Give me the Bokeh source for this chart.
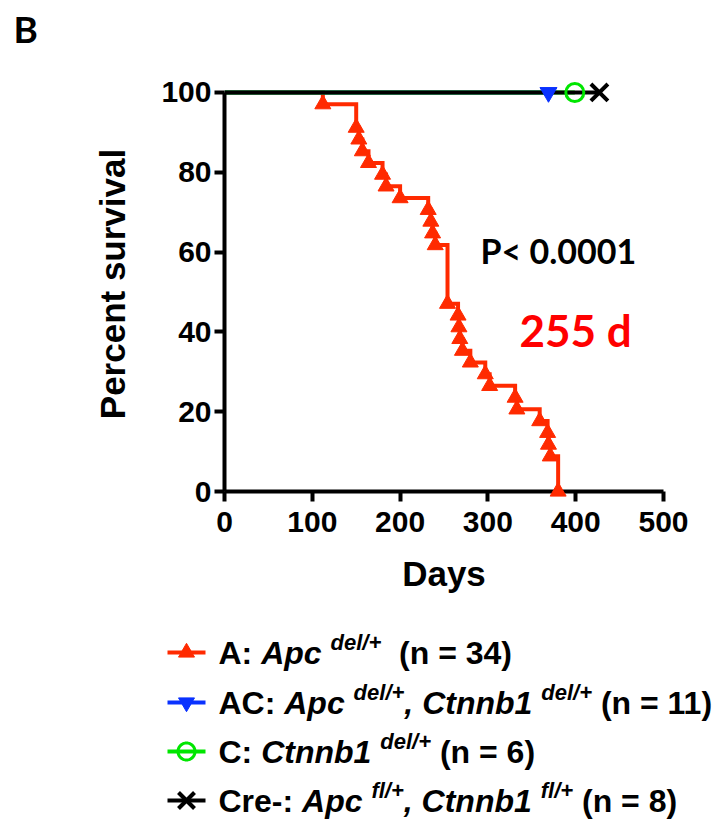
import math
from bokeh.plotting import figure
from bokeh.models import Range1d, FixedTicker
from bokeh.embed import file_html
from bokeh.resources import INLINE
from bokeh.core.properties import value

# ---------------- data ----------------
# Group A (Apc del/+): event days and survival (%) after each event
a_days = [112, 150, 153, 157, 164, 180, 184, 200, 232, 235, 237, 240, 254,
          266, 267, 268, 271, 280, 297, 302, 331, 333, 359, 368, 369, 371, 380]
a_surv = [97.06, 91.18, 88.24, 85.29, 82.35, 79.41, 76.47, 73.53, 70.59, 67.65,
          64.71, 61.76, 47.06, 44.12, 41.18, 38.24, 35.29, 32.35, 29.41, 26.47,
          23.53, 20.59, 17.65, 14.71, 11.76, 8.82, 0.0]
# Groups without events: follow-up span at 100 %
ac_days = [0, 369]
ac_surv = [100, 100]
c_days = [0, 399]
c_surv = [100, 100]
cre_days = [0, 427]
cre_surv = [100, 100]

x_ticks = [0, 100, 200, 300, 400, 500]
y_ticks = [0, 20, 40, 60, 80, 100]

panel_label = "B"
p_text = "P< 0.0001"
median_text = "255 d"

legend_rows = [
    [("A: ", "b"), ("Apc", "i"), (" ", "b"), ("del/+", "sup"), ("  (n = 34)", "b")],
    [("AC: ", "b"), ("Apc", "i"), (" ", "b"), ("del/+", "sup"), (", Ctnnb1", "i"),
     (" ", "b"), ("del/+", "sup"), (" (n = 11)", "b")],
    [("C: ", "b"), ("Ctnnb1", "i"), (" ", "b"), ("del/+", "sup"), (" (n = 6)", "b")],
    [("Cre-: ", "b"), ("Apc", "i"), (" ", "b"), ("fl/+", "sup"), (", Ctnnb1", "i"),
     (" ", "b"), ("fl/+", "sup"), (" (n = 8)", "b")],
]

RED = "#FF2A00"
BLUE = "#0A32FF"
GREEN = "#00E600"
BLACK = "#000000"
FONT = "Liberation Sans"

# ---------------- layout geometry (pixels) ----------------
W, H = 727, 832
FL, FR, FT, FB = 224, 663, 76, 491          # frame edges
X0, X1, Y0, Y1 = 0, 500, 0, 104              # ranges
KX = (FR - FL) / (X1 - X0)
KY = (FB - FT) / (Y1 - Y0)


def dx(px):  # screen x -> data x
    return X0 + (px - FL) / KX


def dy(py):  # screen y -> data y
    return Y0 + (FB - py) / KY


p = figure(width=W, height=H, x_range=Range1d(X0, X1), y_range=Range1d(Y0, Y1),
           toolbar_location=None, output_backend="svg",
           min_border_left=FL, min_border_right=W - FR, min_border_top=FT,
           min_border_bottom=H - FB)
p.outline_line_color = None
p.grid.visible = False
p.background_fill_color = "white"
p.border_fill_color = "white"

for ax in (p.xaxis[0], p.yaxis[0]):
    ax.axis_line_width = 4
    ax.axis_line_color = BLACK
    ax.major_tick_line_width = 4
    ax.major_tick_line_color = BLACK
    ax.major_tick_in = 0
    ax.major_tick_out = 10
    ax.minor_tick_line_color = None
    ax.major_label_text_font = FONT
    ax.major_label_text_font_style = "bold"
    ax.major_label_text_font_size = "30px"
    ax.major_label_text_color = BLACK
    ax.axis_label_text_font = FONT
    ax.axis_label_text_font_style = "bold"
    ax.axis_label_text_font_size = "35px"
    ax.axis_label_text_color = BLACK

p.xaxis.ticker = FixedTicker(ticks=x_ticks)
p.yaxis.ticker = FixedTicker(ticks=y_ticks)
p.xaxis.bounds = (x_ticks[0], x_ticks[-1])
p.yaxis.bounds = (y_ticks[0], y_ticks[-1])
p.xaxis.axis_label = "Days"
p.yaxis.axis_label = "Percent survival"
p.xaxis.major_label_standoff = 10
p.yaxis.major_label_standoff = 3
p.xaxis.axis_label_standoff = 19
p.yaxis.axis_label_standoff = 26

# step curve for group A
sx, sy = [0], [100]
prev = 100
for d, s in zip(a_days, a_surv):
    sx += [d, d]
    sy += [prev, s]
    prev = s
p.line(sx, sy, line_width=4, color=RED, line_join="miter")
p.scatter(a_days, a_surv, marker="triangle", size=16, color=RED, level="overlay")

p.line(ac_days, ac_surv, line_width=4, color=BLUE)
p.line(c_days, c_surv, line_width=4, color=GREEN)
p.line(cre_days, cre_surv, line_width=4, color=BLACK)
p.scatter(ac_days[-1:], ac_surv[-1:], marker="inverted_triangle", size=17, color=BLUE)
p.scatter(c_days[-1:], c_surv[-1:], marker="circle", size=18, fill_color=None,
          line_color=GREEN, line_width=3)
p.scatter(cre_days[-1:], cre_surv[-1:], marker="x", size=24, line_color=BLACK, line_width=4)

p.text(x=[dx(480)], y=[dy(250)], text=[p_text], text_font=value("Lato"), text_font_size="34px",
       text_font_style="bold", text_color=BLACK, text_baseline="middle", text_align="left")
p.text(x=[dx(519)], y=[dy(329)], text=[median_text], text_font=value("Lato"),
       text_font_size="44px", text_font_style="bold", text_color="#FF0000",
       text_baseline="middle", text_align="left")
p.text(x=[dx(13)], y=[dy(28)], text=[panel_label], text_font=value("Lato"),
       text_font_size="37px", text_font_style="bold", text_color=BLACK,
       text_baseline="middle", text_align="left", level="overlay")

# ---------------- legend (drawn below the axes, outside the frame) ----------------
row_centers = [652, 702, 751, 800]
SX0, SX1, SXC = 167, 205, 186      # sample line span / symbol centre (screen px)


def sym_xy(offsets, yc):
    return [dx(SXC + ox) for ox, _ in offsets], [dy(yc + oy) for _, oy in offsets]


TRI_UP = [(-8, 4.6), (8, 4.6), (0, -9.2)]
TRI_DN = [(-8, -4.6), (8, -4.6), (0, 9.2)]
CIRC = [(8.5 * math.cos(t / 40 * 2 * math.pi), 8.5 * math.sin(t / 40 * 2 * math.pi))
        for t in range(41)]
X_A = [(-8, -8), (8, 8)]
X_B = [(-8, 8), (8, -8)]

sample_colors = [RED, BLUE, GREEN, BLACK]
for i, yc in enumerate(row_centers):
    col = sample_colors[i]
    p.line([dx(SX0), dx(SX1)], [dy(yc), dy(yc)], line_width=4, color=col, level="overlay")
    if i == 0 or i == 1:
        xs, ys = sym_xy(TRI_UP if i == 0 else TRI_DN, yc)
        p.patch(xs, ys, fill_color=col, line_color=col, line_width=1, level="overlay")
    elif i == 2:
        xs, ys = sym_xy(CIRC, yc)
        p.patch(xs, ys, fill_color="white", line_color=col, line_width=3, level="overlay")
        p.line([dx(SXC - 8), dx(SXC + 8)], [dy(yc), dy(yc)], line_width=4, color=col,
               level="overlay")
    else:
        xa, ya = sym_xy(X_A, yc)
        xb, yb_ = sym_xy(X_B, yc)
        p.multi_line([xa, xb], [ya, yb_], line_width=4, color=col, level="overlay")

CW = {' ': 278, '(': 333, ')': 333, ':': 333, ',': 278, '-': 333, '/': 278, '+': 584,
      '=': 584, '.': 278, 'A': 722, 'C': 722, 'a': 556, 'b': 611, 'c': 556, 'd': 611,
      'e': 556, 'f': 333, 'l': 278, 'n': 611, 'p': 611, 'r': 389, 't': 333}


def tw(s, size):
    return sum(CW.get(ch, 556) for ch in s) / 1000.0 * size


MAIN, SUP = 32, 22
for i, parts in enumerate(legend_rows):
    yc = row_centers[i]
    x = 218
    for txt, kind in parts:
        if kind == "sup":
            size, yy, style = SUP, yc - 10, "bold italic"
        elif kind == "i":
            size, yy, style = MAIN, yc, "bold italic"
        else:
            size, yy, style = MAIN, yc, "bold"
        lead = len(txt) - len(txt.lstrip(" "))
        x += tw(" " * lead, size)
        body = txt.strip(" ")
        if body:
            p.text(x=[dx(x)], y=[dy(yy)], text=[body], text_font=value(FONT),
                   text_font_size=f"{size}px", text_font_style=style,
                   text_baseline="middle", text_align="left", text_color=BLACK,
                   level="overlay")
        x += tw(txt.lstrip(" "), size)

open("out.html", "w").write(file_html(p, INLINE))
